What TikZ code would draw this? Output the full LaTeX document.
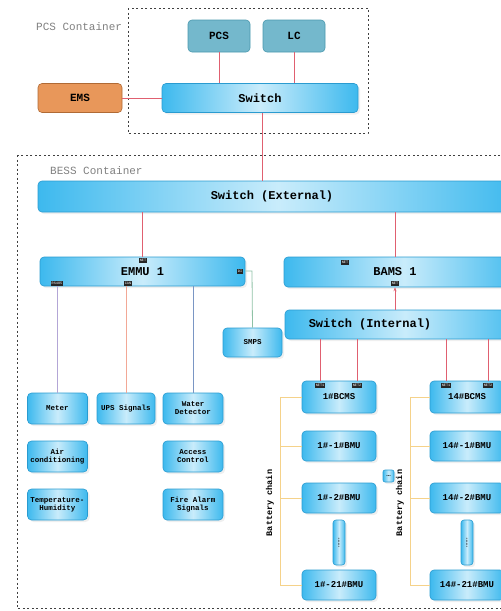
\documentclass[tikz,border=0pt]{standalone}
\usepackage{fontspec}
\setmainfont{Liberation Serif}
\setmonofont{Liberation Mono}
\usetikzlibrary{shadows,arrows.meta}
\definecolor{bluE}{HTML}{3DB9EE}
\definecolor{bluC}{HTML}{C9ECFB}
\definecolor{bluD}{HTML}{2A9BD0}
\definecolor{tealF}{HTML}{74B8CC}
\definecolor{tealD}{HTML}{4A98AE}
\definecolor{orF}{HTML}{E8975A}
\definecolor{orD}{HTML}{B06A35}
\definecolor{redL}{HTML}{E06070}
\definecolor{purL}{HTML}{B3A6D6}
\definecolor{salL}{HTML}{F2A896}
\definecolor{bgL}{HTML}{7A96C4}
\definecolor{grL}{HTML}{8FC2A6}
\definecolor{yeL}{HTML}{F5D28A}
\definecolor{grayT}{HTML}{808080}
\tikzset{
  bbox/.style={draw=bluD, line width=0.6pt, rounded corners=4pt, left color=bluE, right color=bluE, middle color=bluC,
    drop shadow={shadow xshift=2pt, shadow yshift=-2pt, fill=black!12}, align=center, inner sep=1pt},
  tealbox/.style={draw=tealD, line width=0.6pt, rounded corners=4pt, fill=tealF, minimum width=62pt, minimum height=32pt,
    font=\ttfamily\bfseries\fontsize{11}{12}\selectfont},
  bigt/.style={font=\ttfamily\bfseries\fontsize{12}{13}\selectfont},
  smallt/.style={font=\ttfamily\bfseries\fontsize{7.5}{8}\selectfont, minimum width=60pt, minimum height=31pt},
  bmut/.style={font=\ttfamily\bfseries\fontsize{9}{10}\selectfont, minimum width=74pt, minimum height=30pt},
  cont/.style={draw=black!75, dashed, dash pattern=on 2pt off 2.5pt, line width=0.6pt},
  contlbl/.style={font=\ttfamily\fontsize{11}{12}\selectfont, text=grayT, anchor=west, inner sep=0pt},
  tag/.style={fill=black!85, text=white, font=\ttfamily\fontsize{3.5}{3.5}\selectfont, inner sep=0.7pt, minimum height=5pt},
  rl/.style={draw=redL, line width=0.7pt},
  yl/.style={draw=yeL, line width=0.8pt},
  chain/.style={font=\ttfamily\bfseries\fontsize{8.5}{9}\selectfont, rotate=90},
  dotst/.style={font=\bfseries\fontsize{6}{6}\selectfont, rotate=90, inner sep=0pt},
}
\begin{document}
\begin{tikzpicture}[x=1pt,y=-1pt]
\useasboundingbox (0,0) rectangle (501,611);
\clip (0,0) rectangle (501,611);
% containers
\draw[cont] (128,8) rectangle (368,133);
\node[contlbl] (pcslbl) at (36,27) {PCS Container};
\draw[cont] (17,155) rectangle (530,608);
\node[contlbl] (besslbl) at (50,171) {BESS Container};
% PCS container
\node[tealbox] (PCS) at (219,36) {PCS};
\node[tealbox] (LC) at (294,36) {LC};
\node[draw=orD, line width=0.6pt, rounded corners=4pt, fill=orF, minimum width=84pt, minimum height=29pt,
  font=\ttfamily\bfseries\fontsize{11}{12}\selectfont] (EMS) at (80,98) {EMS};
\node[bbox, bigt, minimum width=196pt, minimum height=29pt] (SW) at (260,98) {Switch};
% BESS
\node[bbox, bigt, minimum width=480pt, minimum height=31pt] (SWE) at (278,196.5) {};
\node[bigt] (SWEt) at (272,196.5) {Switch (External)};
\node[bbox, bigt, minimum width=205pt, minimum height=29pt] (EMMU) at (142.5,271.5) {EMMU 1};
\node[bbox, bigt, minimum width=240pt, minimum height=30pt] (BAMS) at (404,272) {};
\node[bigt] (BAMSt) at (395,272) {BAMS 1};
\node[bbox, bigt, minimum width=240pt, minimum height=29pt] (SWI) at (405,324.5) {};
\node[bigt] (SWIt) at (370,324.5) {Switch (Internal)};
\node[bbox, smallt, minimum width=59pt, minimum height=29pt] (SMPS) at (252.5,342.5) {SMPS};
% peripheral boxes
\node[bbox, smallt] (Meter) at (57.5,408.5) {Meter};
\node[bbox, smallt, minimum width=58pt] (UPS) at (126,408.5) {UPS Signals};
\node[bbox, smallt] (Water) at (193,408.5) {Water\\Detector};
\node[bbox, smallt] (Air) at (57.5,456.5) {Air\\conditioning};
\node[bbox, smallt] (Access) at (193,456.5) {Access\\Control};
\node[bbox, smallt] (Temp) at (57.5,504.5) {Temperature-\\Humidity};
\node[bbox, smallt] (Fire) at (193,504.5) {Fire Alarm\\Signals};
% left cluster
\node[bbox, bmut, minimum height=32pt] (B1) at (339,397) {\raisebox{-3pt}{1\#BCMS}};
\node[bbox, bmut] (B11) at (339,446) {1\#-1\#BMU};
\node[bbox, bmut] (B12) at (339,498) {1\#-2\#BMU};
\node[bbox, minimum width=12pt, minimum height=45pt, rounded corners=3pt] (D1) at (339,542.5) {};
\node[dotst] (D1t) at (D1) {......};
\node[bbox, bmut] (B121) at (339,585) {1\#-21\#BMU};
% right cluster
\node[bbox, bmut, minimum height=32pt] (B2) at (467,397) {\raisebox{-3pt}{14\#BCMS}};
\node[bbox, bmut] (B21) at (467,446) {14\#-1\#BMU};
\node[bbox, bmut] (B22) at (467,498) {14\#-2\#BMU};
\node[bbox, minimum width=12pt, minimum height=45pt, rounded corners=3pt] (D2) at (467,542.5) {};
\node[dotst] (D2t) at (D2) {......};
\node[bbox, bmut] (B221) at (467,585) {14\#-21\#BMU};
\node[bbox, minimum width=11pt, minimum height=12pt, rounded corners=2pt, font=\bfseries\fontsize{6}{6}\selectfont, inner sep=0pt] (DM) at (388.5,476) {...};
% chain labels
\node[chain] (C1) at (270,503) {Battery chain};
\node[chain] (C2) at (400,503) {Battery chain};
% connectors PCS container
\draw[rl] (PCS.south) -- (PCS.south |- SW.north);
\draw[rl] (LC.south) -- (LC.south |- SW.north);
\draw[rl] (EMS.east) -- (SW.west);
\coordinate (xsw) at (262,0);
\draw[rl] (xsw |- SW.south) -- (xsw |- SWE.north);
% switch external to EMMU and BAMS
\draw[rl] (EMMU.north) -- (EMMU.north |- SWE.south);
\coordinate (xb) at (395,0);
\draw[rl] (xb |- SWE.south) -- (xb |- BAMS.north);
\draw[rl, -{Stealth[length=4pt,width=3pt]}] (xb |- SWI.north) -- (xb |- BAMS.south);
% EMMU to peripherals
\draw[purL, line width=0.9pt] (Meter.north |- EMMU.south) -- (Meter.north);
\draw[salL, line width=0.9pt] (UPS.north |- EMMU.south) -- (UPS.north);
\draw[bgL, line width=0.9pt] (Water.north |- EMMU.south) -- (Water.north);
\coordinate (xsm) at (252,271);
\draw[grL, line width=0.8pt] (EMMU.east |- xsm) -- (xsm) -- (SMPS.north);
% switch internal to BCMS
\coordinate (n1) at (320,0); \coordinate (n2) at (357,0);
\coordinate (n3) at (446,0); \coordinate (n4) at (488,0);
\draw[rl] (n1 |- SWI.south) -- (n1 |- B1.north);
\draw[rl] (n2 |- SWI.south) -- (n2 |- B1.north);
\draw[rl] (n3 |- SWI.south) -- (n3 |- B2.north);
\draw[rl] (n4 |- SWI.south) -- (n4 |- B2.north);
% battery chain brackets
\coordinate (y1) at (280,0); \coordinate (y2) at (410,0);
\draw[yl] (y1 |- B1.west) -- (B1.west);
\draw[yl] (y1 |- B11.west) -- (B11.west);
\draw[yl] (y1 |- B12.west) -- (B12.west);
\draw[yl] (y1 |- B121.west) -- (B121.west);
\draw[yl] (y1 |- B1.west) -- (y1 |- B121.west);
\draw[yl] (y2 |- B2.west) -- (B2.west);
\draw[yl] (y2 |- B21.west) -- (B21.west);
\draw[yl] (y2 |- B22.west) -- (B22.west);
\draw[yl] (y2 |- B221.west) -- (B221.west);
\draw[yl] (y2 |- B2.west) -- (y2 |- B221.west);
% tags
\node[tag] (t1) at (143,260) {NET};
\node[tag] (t2) at (57,283) {RS485};
\node[tag] (t3) at (128,283) {CAN};
\node[tag] (t4) at (240,271) {DI};
\node[tag] (t5) at (345,262) {NET};
\node[tag] (t6) at (395,283) {NET};
\node[tag] (t7) at (320,385) {NET1};
\node[tag] (t8) at (357,385) {NET2};
\node[tag] (t9) at (446,385) {NET1};
\node[tag] (t10) at (488,385) {NET2};
\end{tikzpicture}
\end{document}
